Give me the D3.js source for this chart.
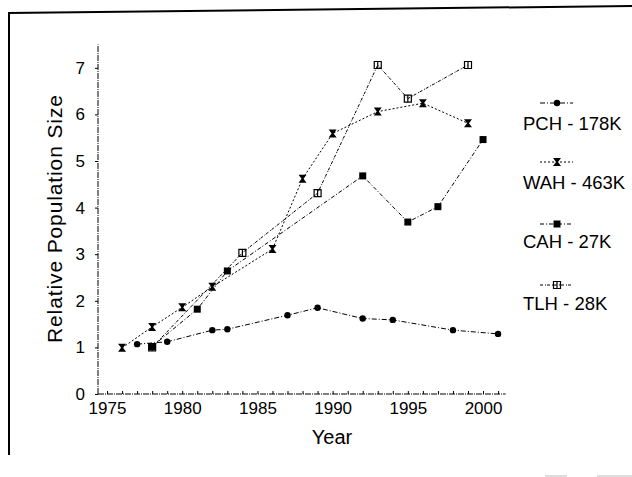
<!DOCTYPE html>
<html>
<head>
<meta charset="utf-8">
<script src="https://cdn.jsdelivr.net/npm/d3@7"></script>
<style>
  body { margin: 0; background: #fff; }
  text { font-family: "Liberation Sans", Arial, sans-serif; fill: #000; }
</style>
</head>
<body>
<svg id="chart" width="632" height="477"></svg>
<script>
(function () {
    'use strict';

    var yTicks = [0, 1, 2, 3, 4, 5, 6, 7];
    var xTicks = [1975, 1980, 1985, 1990, 1995, 2000];

    var pchYears = [1977, 1979, 1982, 1983, 1987, 1989, 1992, 1994, 1998, 2001];
    var pchValues = [1.07, 1.12, 1.37, 1.39, 1.69, 1.85, 1.62, 1.59, 1.37, 1.29];
    var wahYears = [1976, 1978, 1980, 1982, 1986, 1988, 1990, 1993, 1996, 1999];
    var wahValues = [0.99, 1.44, 1.86, 2.30, 3.11, 4.62, 5.59, 6.06, 6.24, 5.81];
    var cahYears = [1978, 1981, 1983, 1992, 1995, 1997, 2000];
    var cahValues = [1.02, 1.82, 2.64, 4.68, 3.69, 4.02, 5.46];
    var tlhYears = [1978, 1984, 1989, 1993, 1995, 1999];
    var tlhValues = [1.00, 3.03, 4.31, 7.06, 6.34, 7.06];

    var seriesNames = ['PCH - 178K', 'WAH - 463K', 'CAH - 27K', 'TLH - 28K'];

    var series = [
        { name: seriesNames[0], years: pchYears, values: pchValues, marker: 'circle', dash: '5,2,1,2' },
        { name: seriesNames[1], years: wahYears, values: wahValues, marker: 'hourglass', dash: '2,2' },
        { name: seriesNames[2], years: cahYears, values: cahValues, marker: 'square', dash: '4,2,1,2' },
        { name: seriesNames[3], years: tlhYears, values: tlhValues, marker: 'box', dash: '3,2,1,1' }
    ];

    var svg = d3.select('#chart');

    var x = d3.scaleLinear().domain([1974.4, 2001.5]).range([98, 505.6]);
    var y = d3.scaleLinear().domain([0, 7.5]).range([394, 44.5]);

    // frame
    svg.append('line')
        .attr('x1', 9).attr('y1', 13).attr('x2', 9).attr('y2', 455)
        .attr('stroke', '#000').attr('stroke-width', 2);
    svg.append('line')
        .attr('x1', 8).attr('y1', 13).attr('x2', 632).attr('y2', 6)
        .attr('stroke', '#000').attr('stroke-width', 2);
    svg.append('line')
        .attr('x1', 545).attr('y1', 476).attr('x2', 567).attr('y2', 476)
        .attr('stroke', '#bbb').attr('stroke-width', 1);
    svg.append('line')
        .attr('x1', 597).attr('y1', 476).attr('x2', 632).attr('y2', 476)
        .attr('stroke', '#bbb').attr('stroke-width', 1);

    // axes
    var xAxis = svg.append('g')
        .attr('transform', 'translate(0,394)')
        .call(d3.axisBottom(x).tickValues(d3.range(1975, 2002)).tickSize(-3).tickFormat(''));
    var xLabels = svg.append('g')
        .attr('transform', 'translate(0,394)')
        .call(d3.axisBottom(x).tickValues(xTicks).tickSize(0).tickPadding(8).tickFormat(d3.format('d')));

    var yAxis = svg.append('g')
        .attr('transform', 'translate(98,0)')
        .call(d3.axisLeft(y).tickValues(yTicks).tickSize(3).tickPadding(10).tickFormat(d3.format('d')));

    [xAxis, xLabels, yAxis].forEach(function (g) {
        g.select('.domain').attr('stroke', '#000').attr('stroke-dasharray', '6,1,1,1');
        g.selectAll('.tick line').attr('stroke', '#000');
        g.selectAll('.tick text')
            .style('font-size', '17px')
            .style('font-family', '"Liberation Sans", Arial, sans-serif')
            .attr('fill', '#000');
    });
    xLabels.select('.domain').remove();
    xAxis.select('.domain').attr('d', 'M98,0H505.6');
    yAxis.select('.domain').attr('d', 'M0,394V44.5');

    svg.append('text')
        .attr('x', 332).attr('y', 444)
        .attr('text-anchor', 'middle')
        .style('font-size', '20px')
        .text('Year');

    svg.append('text')
        .attr('transform', 'translate(62,219) rotate(-90)')
        .attr('text-anchor', 'middle')
        .attr('textLength', 248)
        .attr('lengthAdjust', 'spacing')
        .style('font-size', '21px')
        .text('Relative Population Size');

    function drawMarker(g, type) {
        if (type === 'circle') {
            g.append('circle').attr('r', 3.2).attr('fill', '#000');
        } else if (type === 'hourglass') {
            g.append('path').attr('d', 'M-4,-4H4L1,0L4,4H-4L-1,0Z').attr('fill', '#000');
        } else if (type === 'square') {
            g.append('rect').attr('x', -3.5).attr('y', -3.5).attr('width', 7).attr('height', 7).attr('fill', '#000');
        } else {
            g.append('path').attr('d', 'M-3.5,-3.5H3.5V3.5H-3.5ZM0,-3.5V3.5')
                .attr('fill', 'none').attr('stroke', '#000').attr('stroke-width', 1.2);
        }
    }

    var line = d3.line()
        .x(function (d) { return x(d[0]); })
        .y(function (d) { return y(d[1]); });

    series.forEach(function (s) {
        var pts = s.years.map(function (yr, i) { return [yr, s.values[i]]; });
        svg.append('path')
            .attr('d', line(pts))
            .attr('fill', 'none')
            .attr('stroke', '#000')
            .attr('stroke-width', 1)
            .attr('stroke-dasharray', s.dash);
        pts.forEach(function (p) {
            var g = svg.append('g').attr('transform', 'translate(' + x(p[0]) + ',' + y(p[1]) + ')');
            drawMarker(g, s.marker);
        });
    });

    // legend
    var legendMarkerY = [103, 162, 224, 285];
    var legendTextY = [130, 189, 248, 310];

    series.forEach(function (s, i) {
        svg.append('line')
            .attr('x1', 540).attr('x2', 573)
            .attr('y1', legendMarkerY[i]).attr('y2', legendMarkerY[i])
            .attr('stroke', '#000')
            .attr('stroke-dasharray', s.dash);
        var g = svg.append('g').attr('transform', 'translate(557,' + legendMarkerY[i] + ')');
        drawMarker(g, s.marker);
        svg.append('text')
            .attr('x', 523).attr('y', legendTextY[i])
            .style('font-size', '18.5px')
            .text(s.name);
    });
})();
</script>
</body>
</html>
